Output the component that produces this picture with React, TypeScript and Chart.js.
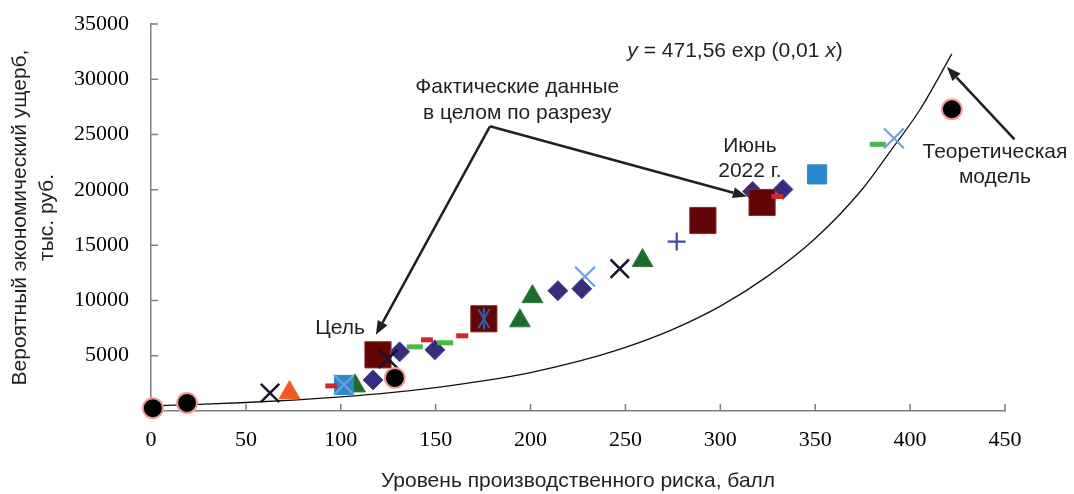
import React, { useEffect, useRef } from 'react';
import { Chart, registerables } from 'chart.js';

Chart.register(...registerables);

// ---- Data ----
const xMin = 0;
const xMax = 450;
const xStep = 50;
const yMin = 0;
const yMax = 35000;
const yStep = 5000;

const xTitle = 'Уровень производственного риска, балл';
const yTitle = ['Вероятный экономический ущерб,', 'тыс. руб.'];

// Theoretical model curve
const curveX = [0, 25, 50, 75, 100, 125, 150, 175, 200, 225, 250, 275, 300, 325, 350, 375, 390, 405, 422];
const curveY = [470, 600, 770, 990, 1280, 1640, 2120, 2720, 3480, 4480, 5750, 7380, 9480, 12200, 15600, 20100, 23600, 27200, 32300];

// Actual data, by marker series
const circleX = [1, 19, 128.5, 422];
const circleY = [250, 725, 2990, 27290];

const navyCrossX = [62.7, 125, 247];
const navyCrossY = [1630, 4710, 12870];

const orangeTriX = [73];
const orangeTriY = [1650];

const redDashX = [95, 145.4, 164, 330];
const redDashY = [2270, 6440, 6800, 19400];

const greenDashX = [139, 155, 383];
const greenDashY = [5800, 6170, 24120];

const blueSquareX = [101.7, 351];
const blueSquareY = [2360, 21400];

const lightCrossX = [101.7, 228.7, 391.5];
const lightCrossY = [2360, 12150, 24660];

const greenTriX = [107.5, 194.4, 201, 259];
const greenTriY = [2270, 8160, 10340, 13600];

const diamondX = [117, 131, 149.6, 214.4, 227, 317, 333];
const diamondY = [2810, 5350, 5530, 10880, 11060, 19860, 20040];

const bigSquareX = [119.6, 175.4, 290.8];
const bigSquareY = [5080, 8340, 17230];

const juneSquareX = [322];
const juneSquareY = [18860];

const asteriskX = [175.4];
const asteriskY = [8340];

const plusX = [277];
const plusY = [15320];

const pts = (xs: number[], ys: number[]) => xs.map((v, i) => ({ x: v, y: ys[i] }));

const TEXT = '#231f20';
const SANS = '"Liberation Sans", Arial, sans-serif';
const SERIF = '"Liberation Serif", "Times New Roman", serif';
const FONT_PX = 21;

function arrow(ctx: CanvasRenderingContext2D, x1: number, y1: number, x2: number, y2: number) {
  const ang = Math.atan2(y2 - y1, x2 - x1);
  const len = 14;
  const hw = 5.5;
  const bx = x2 - Math.cos(ang) * len;
  const by = y2 - Math.sin(ang) * len;
  ctx.beginPath();
  ctx.moveTo(x1, y1);
  ctx.lineTo(bx, by);
  ctx.stroke();
  ctx.beginPath();
  ctx.moveTo(x2, y2);
  ctx.lineTo(bx + Math.sin(ang) * hw, by - Math.cos(ang) * hw);
  ctx.lineTo(bx - Math.sin(ang) * hw, by + Math.cos(ang) * hw);
  ctx.closePath();
  ctx.fill();
}

const annotPlugin = {
  id: 'annot',
  beforeDatasetsDraw(chart: any) {
    const { ctx, chartArea: area } = chart;
    const sx = chart.scales.x;
    const sy = chart.scales.y;
    ctx.save();
    ctx.strokeStyle = '#7f7f7f';
    ctx.lineWidth = 1.5;
    ctx.beginPath();
    for (const t of sx.ticks) {
      const X = sx.getPixelForValue(t.value);
      ctx.moveTo(X, area.bottom);
      ctx.lineTo(X, area.bottom - 7);
    }
    for (const t of sy.ticks) {
      const Y = sy.getPixelForValue(t.value);
      ctx.moveTo(area.left, Y);
      ctx.lineTo(area.left + 7, Y);
    }
    ctx.stroke();
    ctx.restore();
  },
  afterDatasetsDraw(chart: any) {
    const { ctx } = chart;
    const sx = chart.scales.x;
    const sy = chart.scales.y;
    const px = (v: number) => sx.getPixelForValue(v);
    const py = (v: number) => sy.getPixelForValue(v);
    ctx.save();
    ctx.fillStyle = TEXT;
    ctx.strokeStyle = TEXT;
    ctx.textBaseline = 'middle';

    // equation
    const segs: [string, boolean][] = [
      ['y', true],
      [' = 471,56 exp (0,01 ', false],
      ['x', true],
      [')', false],
    ];
    let ex = px(251);
    const ey = py(32550);
    ctx.textAlign = 'left';
    for (const [s, it] of segs) {
      ctx.font = (it ? 'italic ' : '') + FONT_PX + 'px ' + SANS;
      ctx.fillText(s, ex, ey);
      ex += ctx.measureText(s).width;
    }

    ctx.font = FONT_PX + 'px ' + SANS;
    ctx.textAlign = 'center';
    ctx.fillText('Фактические данные', px(193), py(29290));
    ctx.fillText('в целом по разрезу', px(193), py(26930));
    ctx.fillText('Июнь', px(315.6), py(23940));
    ctx.fillText('2022 г.', px(315.6), py(21670));
    ctx.fillText('Цель', px(99.6), py(7530));
    ctx.fillText('Теоретическая', px(444.7), py(23390));
    ctx.fillText('модель', px(444.7), py(21130));

    ctx.lineWidth = 2.5;
    arrow(ctx, px(178.6), py(25750), px(118.5), py(6890));
    arrow(ctx, px(178.6), py(25750), px(314), py(19400));
    arrow(ctx, px(455), py(24570), px(419.4), py(31100));

    ctx.restore();
  },
};

export default function App() {
  const ref = useRef<HTMLCanvasElement | null>(null);

  useEffect(() => {
    document.body.style.margin = '0';
    const canvas = ref.current;
    if (!canvas) return;

    const layers: any[] = [
      {
        data: pts(curveX, curveY),
        showLine: true,
        borderColor: '#111',
        borderWidth: 1.3,
        pointRadius: 0,
        cubicInterpolationMode: 'monotone',
      },
      {
        data: pts(greenTriX, greenTriY),
        pointStyle: 'triangle',
        pointRadius: 12,
        pointBackgroundColor: '#1f6a2c',
        pointBorderColor: '#2f7a3a',
        pointBorderWidth: 1,
      },
      {
        data: pts(bigSquareX, bigSquareY),
        pointStyle: 'rect',
        pointRadius: 18.5,
        pointBackgroundColor: '#640505',
        pointBorderColor: '#8a2a2a',
        pointBorderWidth: 1,
      },
      {
        data: pts(blueSquareX, blueSquareY),
        pointStyle: 'rect',
        pointRadius: 13.5,
        pointBackgroundColor: '#2a88cc',
        pointBorderColor: '#2a88cc',
        pointBorderWidth: 1,
      },
      {
        data: pts(lightCrossX, lightCrossY),
        pointStyle: 'crossRot',
        pointRadius: 14,
        pointBorderColor: '#6e9fe0',
        pointBorderWidth: 2.2,
      },
      {
        data: pts(diamondX, diamondY),
        pointStyle: 'rectRot',
        pointRadius: 10,
        pointBackgroundColor: '#3a2c7c',
        pointBorderColor: '#3d4aa8',
        pointBorderWidth: 1,
      },
      {
        data: pts(juneSquareX, juneSquareY),
        pointStyle: 'rect',
        pointRadius: 18.5,
        pointBackgroundColor: '#640505',
        pointBorderColor: '#8a2a2a',
        pointBorderWidth: 1,
      },
      {
        data: pts(redDashX, redDashY),
        pointStyle: 'line',
        pointRadius: 6,
        pointBorderColor: '#d0282c',
        pointBorderWidth: 5,
      },
      {
        data: pts(greenDashX, greenDashY),
        pointStyle: 'line',
        pointRadius: 8,
        pointBorderColor: '#4db649',
        pointBorderWidth: 5,
      },
      {
        data: pts(navyCrossX, navyCrossY),
        pointStyle: 'crossRot',
        pointRadius: 13,
        pointBorderColor: '#15152e',
        pointBorderWidth: 2.5,
      },
      {
        data: pts(asteriskX, asteriskY),
        pointStyle: 'line',
        pointRotation: 90,
        pointRadius: 11,
        pointBorderColor: '#2a5cb8',
        pointBorderWidth: 2,
      },
      {
        data: pts(asteriskX, asteriskY),
        pointStyle: 'line',
        pointRotation: 60,
        pointRadius: 11,
        pointBorderColor: '#2a5cb8',
        pointBorderWidth: 2,
      },
      {
        data: pts(asteriskX, asteriskY),
        pointStyle: 'line',
        pointRotation: 120,
        pointRadius: 11,
        pointBorderColor: '#2a5cb8',
        pointBorderWidth: 2,
      },
      {
        data: pts(plusX, plusY),
        pointStyle: 'cross',
        pointRadius: 9,
        pointBorderColor: '#3a4aa8',
        pointBorderWidth: 2.2,
      },
      {
        data: pts(orangeTriX, orangeTriY),
        pointStyle: 'triangle',
        pointRadius: 12,
        pointBackgroundColor: '#f05a22',
        pointBorderColor: '#f05a22',
        pointBorderWidth: 1,
      },
      {
        data: pts(circleX, circleY),
        pointStyle: 'circle',
        pointRadius: 10,
        pointBackgroundColor: '#000',
        pointBorderColor: '#f29a9a',
        pointBorderWidth: 2,
      },
    ];

    const datasets = layers.map((d, i) => ({
      ...d,
      clip: false,
      order: layers.length - i,
      pointHoverRadius: d.pointRadius,
    }));

    const chart = new Chart(canvas, {
      type: 'scatter',
      data: { datasets },
      options: {
        responsive: false,
        animation: false,
        events: [],
        layout: { padding: { left: 0, right: 69, top: 24, bottom: 0 } },
        plugins: {
          legend: { display: false },
          tooltip: { enabled: false },
        },
        scales: {
          x: {
            type: 'linear',
            min: xMin,
            max: xMax,
            grid: { display: false, drawTicks: false },
            border: { display: true, color: '#7f7f7f', width: 1.5 },
            ticks: {
              stepSize: xStep,
              maxRotation: 0,
              padding: 16,
              color: '#000',
              font: { family: SERIF, size: 22, lineHeight: 1.2 },
            },
            title: {
              display: true,
              text: xTitle,
              color: TEXT,
              font: { family: SANS, size: FONT_PX, lineHeight: 1.2 },
              padding: { top: 0, bottom: 0 },
            },
            afterFit: (s: any) => {
              s.height = 83;
              s.paddingLeft = 0;
              s.paddingRight = 0;
            },
          },
          y: {
            type: 'linear',
            min: yMin,
            max: yMax,
            grid: { display: false, drawTicks: false },
            border: { display: true, color: '#7f7f7f', width: 1.5 },
            ticks: {
              stepSize: yStep,
              padding: 22,
              color: '#000',
              font: { family: SERIF, size: 22, lineHeight: 1.2 },
              callback: (v: any) => (Number(v) === 0 ? '' : String(v)),
            },
            title: {
              display: true,
              text: yTitle,
              color: TEXT,
              font: { family: SANS, size: FONT_PX, lineHeight: 1.29 },
              padding: { top: 6.5, bottom: 0 },
            },
            afterFit: (s: any) => {
              s.width = 151;
              s.paddingTop = 0;
              s.paddingBottom = 0;
            },
          },
        },
      } as any,
      plugins: [annotPlugin],
    });

    return () => {
      chart.destroy();
    };
  }, []);

  return (
    <div style={{ width: 1074, height: 494, background: '#fff' }}>
      <canvas ref={ref} width={1074} height={494} style={{ display: 'block', width: 1074, height: 494 }} />
    </div>
  );
}
